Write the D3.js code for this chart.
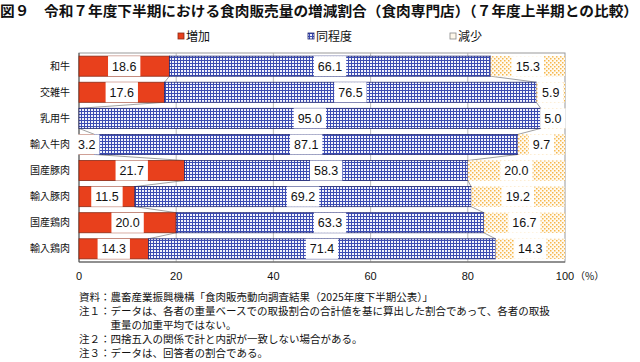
<!DOCTYPE html>
<html><head><meta charset="utf-8">
<script src="https://cdn.jsdelivr.net/npm/d3@7"></script>
<style>body{margin:0;background:#fff}svg{display:block}</style>
</head><body>
<svg id="c" width="640" height="362"></svg>
<script>
const categories = ["和牛","交雑牛","乳用牛","輸入牛肉","国産豚肉","輸入豚肉","国産鶏肉","輸入鶏肉"];
const seriesNames = ["増加","同程度","減少"];
const increase = [18.6,17.6,0,3.2,21.7,11.5,20.0,14.3];
const same = [66.1,76.5,95.0,87.1,58.3,69.2,63.3,71.4];
const decrease = [15.3,5.9,5.0,9.7,20.0,19.2,16.7,14.3];
const xTicks = [0,20,40,60,80,100];
const title = "図９　令和７年度下半期における食肉販売量の増減割合（食肉専門店）（７年度上半期との比較）";
const notes = [
  "資料：農畜産業振興機構「食肉販売動向調査結果（2025年度下半期公表）」",
  "注１：データは、各者の重量ベースでの取扱割合の合計値を基に算出した割合であって、各者の取扱",
  "　　　重量の加重平均ではない。",
  "注２：四捨五入の関係で計と内訳が一致しない場合がある。",
  "注３：データは、回答者の割合である。"
];

const svg = d3.select("#c");
const JP = "'Noto Sans CJK JP', sans-serif";
const NUM = "'Liberation Sans', Arial, sans-serif";

const defs = svg.append("defs");
const pg = defs.append("pattern").attr("id","grid").attr("patternUnits","userSpaceOnUse").attr("width",3).attr("height",3);
pg.append("rect").attr("width",3).attr("height",3).attr("fill","#f2f3fc");
pg.append("rect").attr("width",3).attr("height",1).attr("fill","#3c4cb2");
pg.append("rect").attr("width",1).attr("height",3).attr("fill","#3c4cb2");
const pd = defs.append("pattern").attr("id","dots").attr("patternUnits","userSpaceOnUse").attr("width",4).attr("height",4);
pd.append("rect").attr("width",4).attr("height",4).attr("fill","#fffaf0");
pd.append("rect").attr("x",0).attr("y",0).attr("width",1.5).attr("height",1.5).attr("fill","#f6b64a");
pd.append("rect").attr("x",2).attr("y",2).attr("width",1.5).attr("height",1.5).attr("fill","#f6b64a");

const fills = ["#e8401c","url(#grid)","url(#dots)"];
const strokes = ["#8a2a16","#1c2470","none"];
const legFills = ["#e8401c","url(#grid)","#fff8ea"];

const x = d3.scaleLinear().domain([0,100]).range([79,565]);
const y = d3.scaleBand().domain(categories).range([53,262]).paddingInner(0.23).paddingOuter(0.12);

// title
svg.append("text").attr("x",0).attr("y",16).attr("font-family",JP).attr("font-size",14).attr("font-weight","bold")
  .attr("textLength",638).attr("lengthAdjust","spacingAndGlyphs").attr("fill","#111").text(title);

// legend
const legX = [178,308,450];
seriesNames.forEach((n,i)=>{
  svg.append("rect").attr("x",legX[i]).attr("y",33).attr("width",6).attr("height",6)
    .attr("fill",legFills[i]).attr("stroke",i===2?"#888":strokes[i]).attr("stroke-width",0.8);
  svg.append("text").attr("x",legX[i]+8).attr("y",41).attr("font-family",JP).attr("font-size",12).attr("fill","#111").text(n);
});

// frame & grid
const g = svg.append("g");
g.append("rect").attr("x",79).attr("y",53).attr("width",486).attr("height",209).attr("fill","none").attr("stroke","#999").attr("stroke-width",1);
xTicks.slice(1,-1).forEach(t=>{
  g.append("line").attr("x1",x(t)).attr("x2",x(t)).attr("y1",53).attr("y2",262).attr("stroke","#aaa").attr("stroke-width",0.8);
});
g.append("line").attr("x1",79).attr("x2",79).attr("y1",53).attr("y2",262).attr("stroke","#555");
g.append("line").attr("x1",79).attr("x2",565).attr("y1",262).attr("y2",262).attr("stroke","#555");

// stacked data
const rows = categories.map((c,i)=>({cat:c, vals:[increase[i],same[i],decrease[i]]}));
rows.forEach(r=>{ let acc=0; r.segs=r.vals.map(v=>{const s={x0:acc,x1:acc+v,v}; acc+=v; return s;}); });

// connector lines
for(let i=0;i<rows.length-1;i++){
  [0,1].forEach(k=>{
    const a = rows[i].segs[k].x1, b = rows[i+1].segs[k].x1;
    g.append("line").attr("x1",x(a)).attr("y1",y(rows[i].cat)+y.bandwidth())
      .attr("x2",x(b)).attr("y2",y(rows[i+1].cat)).attr("stroke","#888").attr("stroke-width",0.8);
  });
}

// bars
rows.forEach(r=>{
  r.segs.forEach((s,k)=>{
    if(s.v<=0) return;
    g.append("rect").attr("x",x(s.x0)).attr("y",y(r.cat)).attr("width",x(s.x1)-x(s.x0)).attr("height",y.bandwidth())
      .attr("fill",fills[k]).attr("stroke",strokes[k]).attr("stroke-width",k===2?0:0.8);
  });
});

// labels
rows.forEach(r=>{
  r.segs.forEach((s,k)=>{
    if(s.v<=0) return;
    const cx = x((s.x0+s.x1)/2);
    const txt = s.v.toFixed(1);
    const t = g.append("text").attr("x",cx).attr("y",y(r.cat)+y.bandwidth()/2+4.5).attr("text-anchor","middle")
      .attr("font-family",NUM).attr("font-size",12.5).attr("fill","#111").text(txt);
    const w = t.node().getComputedTextLength();
    g.insert("rect", () => t.node()).attr("x",cx-w/2-4).attr("y",y(r.cat)).attr("width",w+8).attr("height",y.bandwidth()).attr("fill","#fff");
  });
});

// category labels
categories.forEach(c=>{
  svg.append("text").attr("x",70).attr("y",y(c)+y.bandwidth()/2+3.5).attr("text-anchor","end")
    .attr("font-family",JP).attr("font-size",10).attr("fill","#111").text(c);
});

// x tick labels
xTicks.forEach(t=>{
  svg.append("text").attr("x",x(t)).attr("y",280).attr("text-anchor","middle")
    .attr("font-family",NUM).attr("font-size",11).attr("fill","#111").text(t);
});
svg.append("text").attr("x",x(100)+10).attr("y",280).attr("font-family",JP).attr("font-size",10).attr("fill","#111").text("（%）");

// notes
const noteY = [301,315,329,343,357];
notes.forEach((n,i)=>{
  svg.append("text").attr("x",79).attr("y",noteY[i]).attr("font-family",JP).attr("font-size",10.5).attr("fill","#111").text(n);
});
</script>
</body></html>
